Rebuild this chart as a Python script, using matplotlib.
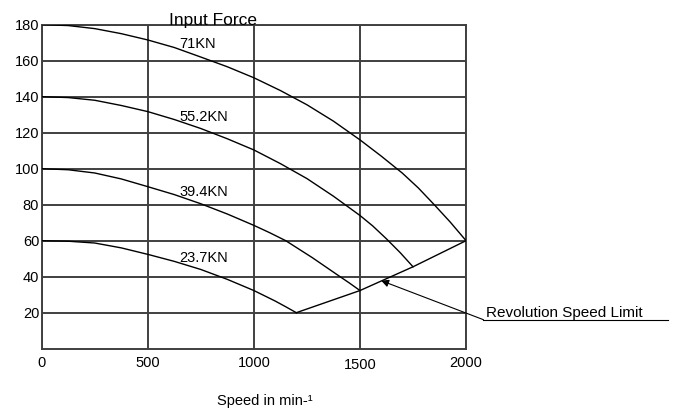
import numpy as np
import matplotlib
matplotlib.use("Agg")
import matplotlib.pyplot as plt
import matplotlib.transforms as mtransforms

plt.rcParams['font.family'] = ['Liberation Sans', 'DejaVu Sans']

# speed (min-1) vs value
speed_71 = [0, 125, 250, 375, 500, 625, 750, 875, 1000, 1125, 1250,
            1375, 1500, 1600, 1700, 1775, 1850, 1925, 2000]
force_71 = [180, 179.5, 177.8, 175.0, 171.5, 167.3, 162, 156.6, 150.5, 143.4, 135.5,
            126.4, 116, 107, 97.5, 89.3, 80, 70.4, 60]

speed_55 = [0, 125, 250, 375, 500, 625, 750, 875, 1000, 1125, 1250,
            1375, 1500, 1560, 1625, 1690, 1750]
force_55 = [140, 139.5, 138, 135.1, 131.7, 127.3, 122.3, 116.6, 110.4, 102.8, 94.5,
            84.7, 74, 68.2, 61, 53.3, 45.5]

speed_39 = [0, 125, 250, 375, 500, 625, 750, 875, 1000, 1075, 1150,
            1275, 1400, 1450, 1500]
force_39 = [100, 99.4, 97.6, 94.3, 90, 85.6, 80.5, 74.8, 68.5, 64.4, 60,
            50.6, 40.5, 36.5, 32.3]

speed_23 = [0, 125, 250, 375, 500, 625, 750, 875, 1000, 1100, 1150, 1200]
force_23 = [60, 59.7, 58.7, 56, 52.4, 48.5, 44, 38.5, 32.3, 26.5, 23.3, 20]

# revolution speed limit
speed_lim = [1200, 1500, 1750, 2000]
force_lim = [20, 32.3, 45.5, 60]

curve_labels = ['71KN', '55.2KN', '39.4KN', '23.7KN']
label_y = [167, 126.5, 85, 48]
label_x = 650

x_ticks = [0, 500, 1000, 1500, 2000]
y_ticks = [20, 40, 60, 80, 100, 120, 140, 160, 180]

grid_col = '#404040'

fig = plt.figure(figsize=(6.73, 4.11), dpi=100)
ax = fig.add_axes([0.062, 0.1516, 0.6305, 0.7884])

for xs, ys in [(speed_71, force_71), (speed_55, force_55),
               (speed_39, force_39), (speed_23, force_23),
               (speed_lim, force_lim)]:
    ax.plot(xs, ys, color='black', lw=1.0, zorder=3)

for txt, yy in zip(curve_labels, label_y):
    ax.text(label_x, yy, txt, fontsize=10.5, ha='left', va='baseline', zorder=4)

ax.set_xlim(0, 2000)
ax.set_ylim(0, 180)
ax.set_xticks(x_ticks)
ax.set_yticks(y_ticks)
ax.tick_params(axis='both', length=0, labelsize=10.5)
ax.tick_params(axis='x', pad=5.3)
ax.tick_params(axis='y', pad=1.8)
ax.grid(True, color=grid_col, lw=1.4)
for sp in ax.spines.values():
    sp.set_color(grid_col)
    sp.set_linewidth(1.4)

# the 1500 label sits a little lower in the original
lbl = ax.get_xticklabels()[3]
lbl.set_transform(lbl.get_transform() +
                  mtransforms.ScaledTranslation(0, -2 / 100, fig.dpi_scale_trans))

# title sitting on the top line
ax.text(807, 180, 'Input Force', fontsize=12.5, ha='center', va='baseline')

# revolution speed limit callout
ax.annotate('', xy=(1600, 37.8), xytext=(2082, 16.1),
            arrowprops=dict(arrowstyle='-|>', color='black', lw=0.8,
                            mutation_scale=11, shrinkA=0, shrinkB=0),
            annotation_clip=False)
ax.plot([2082, 2950], [16.1, 16.1], color='black', lw=0.8, clip_on=False)
ax.text(2092, 17.4, 'Revolution Speed Limit', fontsize=11, ha='left', va='baseline')

fig.text(265 / 673, 1 - 405 / 411, 'Speed in min-\u00b9', fontsize=10.5,
         ha='center', va='baseline')

fig.savefig('out.png', dpi=100)
